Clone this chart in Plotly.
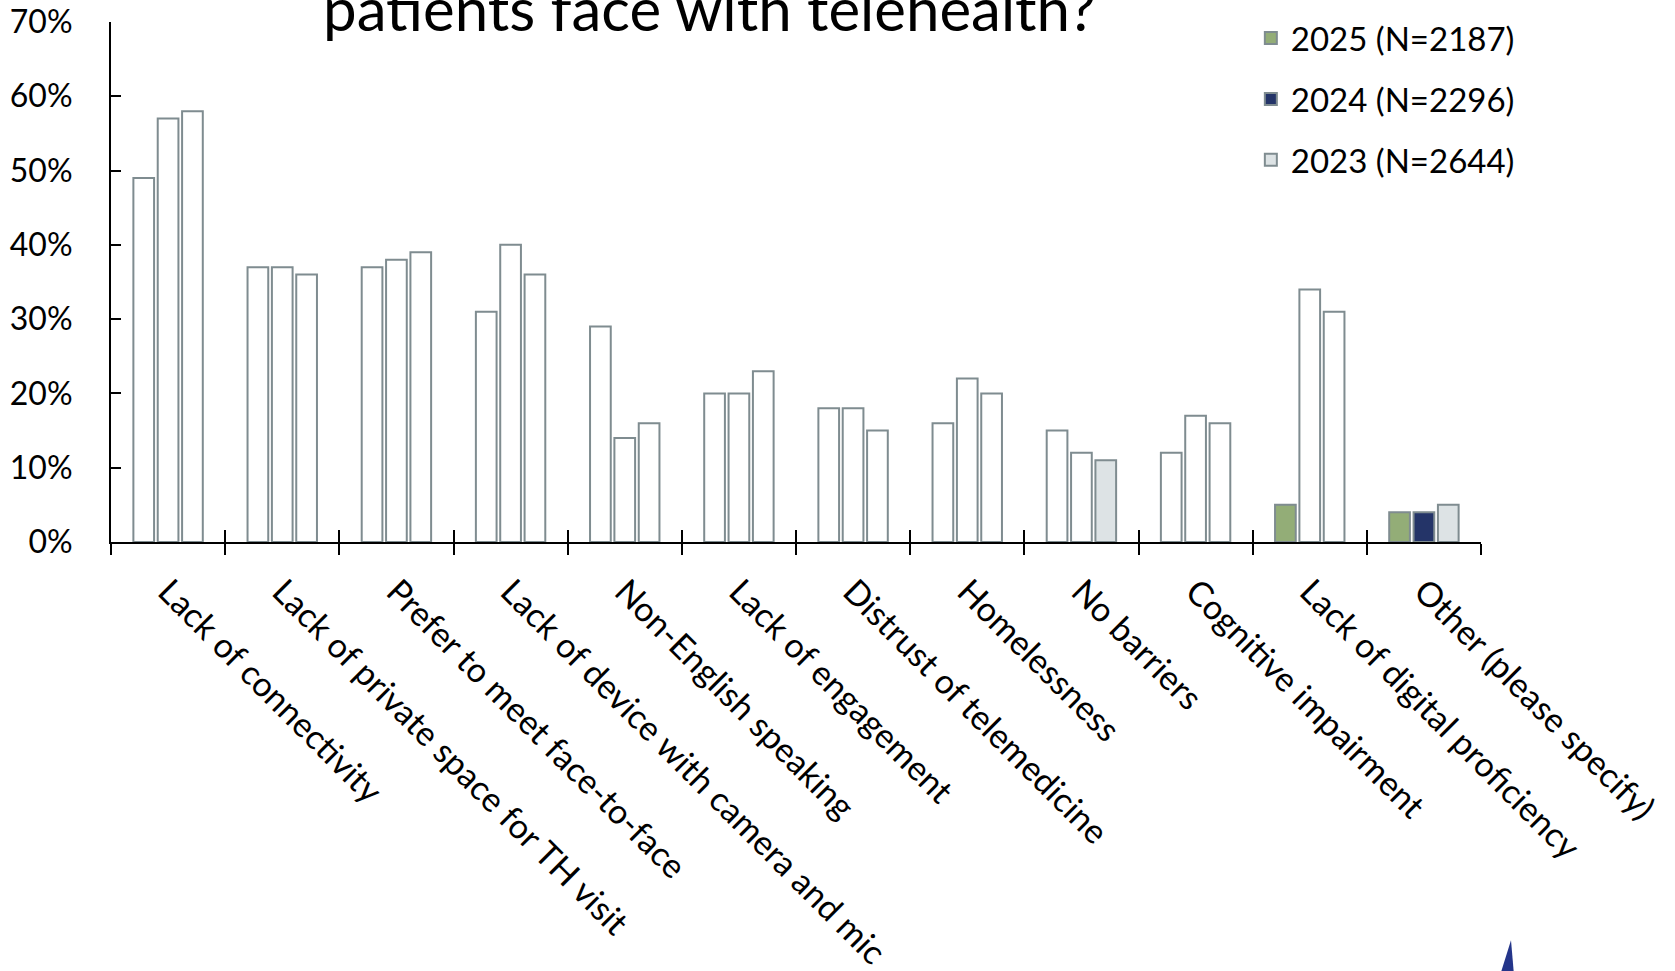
import plotly.graph_objects as go

categories = [
    "Lack of connectivity",
    "Lack of private space for TH visit",
    "Prefer to meet face-to-face",
    "Lack of device with camera and mic",
    "Non-English speaking",
    "Lack of engagement",
    "Distrust of telemedicine",
    "Homelessness",
    "No barriers",
    "Cognitive impairment",
    "Lack of digital proficiency",
    "Other (please specify)",
]

series_names = ["2025 (N=2187)", "2024 (N=2296)", "2023 (N=2644)"]
values_2025 = [49, 37, 37, 31, 29, 20, 18, 16, 15, 12, 5, 4]
values_2024 = [57, 37, 38, 40, 14, 20, 18, 22, 12, 17, 34, 4]
values_2023 = [58, 36, 39, 36, 16, 23, 15, 20, 11, 16, 31, 5]

# categories whose bar is shown filled (the rest are drawn as empty outlines)
filled_2025 = ["Lack of digital proficiency", "Other (please specify)"]
filled_2024 = ["Other (please specify)"]
filled_2023 = ["No barriers", "Other (please specify)"]

series_colors = ["#93AD77", "#243468", "#DDE3E5"]
outline_color = "#7F8C90"
FONT = "Lato"

fig = go.Figure()
for name, vals, filled, col in zip(
    series_names,
    [values_2025, values_2024, values_2023],
    [filled_2025, filled_2024, filled_2023],
    series_colors,
):
    colors = [col if c in filled else "#FFFFFF" for c in categories]
    # feed points in reverse so the legend swatch takes the filled colour
    fig.add_trace(go.Bar(
        name=name,
        x=categories[::-1],
        y=[v / 100 for v in vals][::-1],
        marker=dict(color=colors[::-1], line=dict(color=outline_color, width=2)),
        legendgroup=name,
    ))

n = len(categories)
# helper axis that draws the upper half of the crossing x ticks
fig.add_trace(go.Scatter(x=[None], y=[None], xaxis="x2", showlegend=False, hoverinfo="skip"))

fig.update_layout(
    width=1675, height=971, autosize=False,
    paper_bgcolor="white", plot_bgcolor="white",
    margin=dict(l=111, r=194, t=22, b=429, pad=0, autoexpand=False),
    barmode="group", bargap=0.36, bargroupgap=0.15,
    font=dict(family=FONT, color="black", size=32),
    showlegend=True,
    legend=dict(
        x=0.832, y=1.023, xanchor="left", yanchor="top",
        font=dict(family=FONT, size=33, color="black"),
        traceorder="grouped", tracegroupgap=15,
        bgcolor="rgba(0,0,0,0)",
    ),
    xaxis=dict(
        type="category", categoryorder="array", categoryarray=categories,
        tickson="boundaries", ticks="outside", ticklen=11, tickwidth=2, tickcolor="black",
        showline=True, linecolor="black", linewidth=2,
        tickangle=45, ticklabelstandoff=14,
        tickfont=dict(family=FONT, size=34, color="black"),
        showgrid=False, zeroline=False, range=[-0.5, n - 0.5],
    ),
    xaxis2=dict(
        overlaying="x", anchor="y", side="bottom", range=[-0.5, n - 0.5],
        tickmode="array", tickvals=[i - 0.5 for i in range(n + 1)],
        ticks="inside", ticklen=12, tickwidth=2, tickcolor="black",
        showticklabels=False, showline=False, showgrid=False, zeroline=False,
    ),
    yaxis=dict(
        range=[0, 0.7], dtick=0.1, tickformat=".0%",
        ticks="inside", ticklen=10, tickwidth=2, tickcolor="black",
        showline=True, linecolor="black", linewidth=2,
        showgrid=False, zeroline=False, ticklabelstandoff=30,
        tickfont=dict(family=FONT, size=32, color="black"),
    ),
    annotations=[dict(
        text="patients face with telehealth?",
        xref="paper", yref="paper", x=0.437, y=0.954,
        xanchor="center", yanchor="bottom", showarrow=False,
        font=dict(family=FONT, size=60, color="black"),
    )],
    shapes=[dict(
        type="path", xref="paper", yref="paper",
        path="M 1.0219,-0.7660 L 1.0139,-0.8333 L 1.0241,-0.8333 Z",
        fillcolor="#24358A", line=dict(width=0),
    )],
)

fig.write_html(
    "out.html",
    config={"displayModeBar": False},
    post_script="document.body.style.margin='0px';",
)
